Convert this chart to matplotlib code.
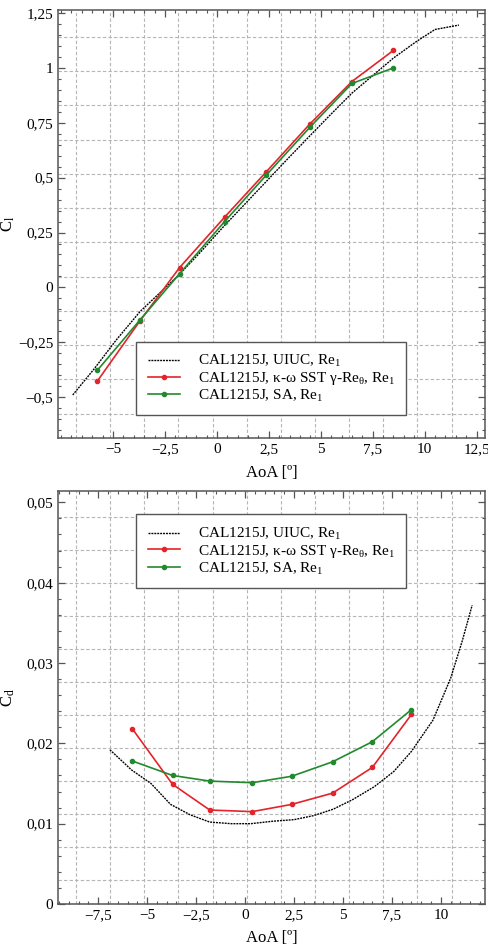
import numpy as np
import matplotlib
matplotlib.use("Agg")
import matplotlib.pyplot as plt
from matplotlib.ticker import MultipleLocator, FuncFormatter, FixedLocator

plt.rcParams['font.family'] = ['Liberation Serif', 'DejaVu Serif']
plt.rcParams['mathtext.fontset'] = 'custom'
plt.rcParams['mathtext.rm'] = 'Liberation Serif'
plt.rcParams['mathtext.it'] = 'Liberation Serif:italic'
plt.rcParams['font.size'] = 11

# --- CFD angles of attack
aoa_cfd = [-5.75, -3.7, -1.8, 0.37, 2.38, 4.47, 6.5, 8.5]

# lift
cl_sst = [-0.426, -0.152, 0.09, 0.32, 0.527, 0.744, 0.938, 1.08]
cl_sa = [-0.377, -0.148, 0.062, 0.30, 0.512, 0.729, 0.929, 1.0]
aoa_uiuc_cl = [-6.94, -5.9, -4.85, -3.7, -2.75, -1.85, -0.8, 0.3, 1.35, 2.4,
               3.45, 4.5, 5.5, 6.5, 7.5, 8.5, 9.6, 10.5, 11.65]
cl_uiuc = [-0.49, -0.37, -0.24, -0.11, -0.025, 0.055, 0.16, 0.275, 0.38, 0.485,
           0.59, 0.693, 0.79, 0.885, 0.965, 1.045, 1.12, 1.175, 1.195]

# drag
cd_sst = [0.0218, 0.0149, 0.0117, 0.0115, 0.0124, 0.0138, 0.0170, 0.0236]
cd_sa = [0.0178, 0.0160, 0.0153, 0.0151, 0.0159, 0.0177, 0.0202, 0.0242]
aoa_uiuc_cd = [-6.9, -5.8, -4.8, -3.8, -2.8, -1.8, -0.7, 0.3, 1.4, 2.5, 3.5,
               4.5, 5.5, 6.6, 7.6, 8.5, 9.6, 10.5, 11.1, 11.6]
cd_uiuc = [0.0192, 0.0167, 0.0150, 0.0124, 0.0111, 0.0102, 0.0100, 0.0100,
           0.0103, 0.0105, 0.0110, 0.0118, 0.0130, 0.0146, 0.0165, 0.0190,
           0.0229, 0.0281, 0.0328, 0.0372]

cl_xticks = [-5, -2.5, 0, 2.5, 5, 7.5, 10, 12.5]
cd_xticks = [-7.5, -5, -2.5, 0, 2.5, 5, 7.5, 10]

labels = ["CAL1215J, UIUC, Re$_{1}$",
          "CAL1215J, κ-ω SST γ-Re$_{\\mathrm{θ}}$, Re$_{1}$",
          "CAL1215J, SA, Re$_{1}$"]

RED = '#e3242b'
GREEN = '#22892f'


def comma(v, pos):
    s = ('%.3f' % v).rstrip('0').rstrip('.')
    if s in ('-0', ''):
        s = '0'
    return s.replace('.', ',').replace('-', '\u2212')


def style_axes(ax):
    for sp in ax.spines.values():
        sp.set_color('#555555')
        sp.set_linewidth(1.1)
    ax.tick_params(which='both', direction='in', top=True, right=True,
                   colors='#555555', labelcolor='black')
    ax.tick_params(which='major', length=5, width=0.9)
    ax.tick_params(which='minor', length=2.5, width=0.8)
    ax.xaxis.set_major_formatter(FuncFormatter(comma))
    ax.yaxis.set_major_formatter(FuncFormatter(comma))
    # background grid, not tied to the ticks
    for k in range(12):
        f = 0.042 + 0.080 * k
        ax.plot([f, f], [0, 1], transform=ax.transAxes, color='#b5b5b5',
                lw=0.8, ls=(0, (3, 2)), zorder=0)
        g = 1 - (0.063 + 0.080 * k)
        ax.plot([0, 1], [g, g], transform=ax.transAxes, color='#b5b5b5',
                lw=0.8, ls=(0, (3, 2)), zorder=0)


fig = plt.figure(figsize=(4.89, 9.47), dpi=100)
ax1 = fig.add_axes([0.1186, 0.5375, 0.873, 0.452])
ax2 = fig.add_axes([0.1186, 0.0454, 0.873, 0.436])

for ax, xu, yu, ys, ya in [(ax1, aoa_uiuc_cl, cl_uiuc, cl_sst, cl_sa),
                           (ax2, aoa_uiuc_cd, cd_uiuc, cd_sst, cd_sa)]:
    style_axes(ax)
    ax.plot(xu, yu, color='black', lw=1.0, ls=(0, (1.4, 0.7)), label=labels[0], zorder=3)
    ax.plot(aoa_cfd, ys, color=RED, lw=1.2, marker='o', ms=3, label=labels[1], zorder=4)
    ax.plot(aoa_cfd, ya, color=GREEN, lw=1.2, marker='o', ms=3, label=labels[2], zorder=4)
    ax.set_xlabel("AoA [º]", fontsize=12)
    ax.xaxis.set_label_coords(0.5, -0.082)
    ax.xaxis.label.set_verticalalignment('center')

ax1.set_xlim(-7.65, 12.9)
ax1.set_ylim(-0.686, 1.264)
ax1.xaxis.set_major_locator(FixedLocator(cl_xticks))
ax1.xaxis.set_minor_locator(MultipleLocator(0.5))
ax1.yaxis.set_major_locator(MultipleLocator(0.25))
ax1.yaxis.set_minor_locator(MultipleLocator(0.05))
ax1.set_ylabel("C$_{\\mathrm{l}}$", fontsize=12)
ax1.yaxis.set_label_coords(-0.095, 0.5)

ax2.set_xlim(-9.55, 12.25)
ax2.set_ylim(0, 0.0514)
ax2.xaxis.set_major_locator(FixedLocator(cd_xticks))
ax2.xaxis.set_minor_locator(MultipleLocator(0.5))
ax2.yaxis.set_major_locator(MultipleLocator(0.01))
ax2.yaxis.set_minor_locator(MultipleLocator(0.002))
ax2.set_ylabel("C$_{\\mathrm{d}}$", fontsize=12)
ax2.yaxis.set_label_coords(-0.095, 0.5)

leg_kw = dict(fancybox=False, edgecolor='#555555', framealpha=1,
              handlelength=2.1, handletextpad=1.2, borderpad=0.75,
              labelspacing=0.05, fontsize=11)
l1 = ax1.legend(loc='lower left', bbox_to_anchor=(0.165, 0.035), **leg_kw)
l2 = ax2.legend(loc='upper left', bbox_to_anchor=(0.165, 0.962), **leg_kw)
for l in (l1, l2):
    l.get_frame().set_linewidth(1.0)
    l.set_zorder(10)

fig.savefig("out.png", dpi=100)
